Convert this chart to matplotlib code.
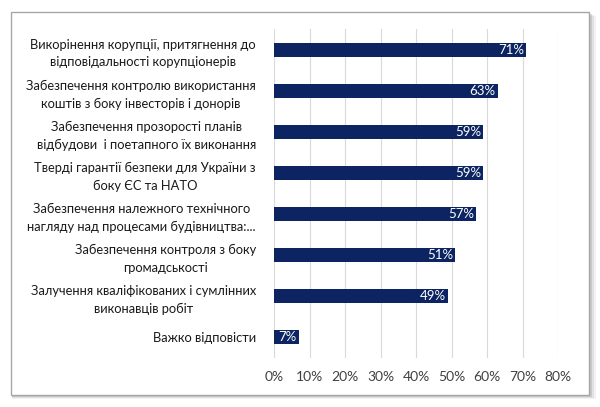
import matplotlib.pyplot as plt
from matplotlib.patches import Rectangle

# categories top -> bottom
labels = [
    "Викорінення корупції, притягнення до\nвідповідальності корупціонерів",
    "Забезпечення контролю використання\nкоштів з боку інвесторів і донорів",
    "Забезпечення прозорості планів\nвідбудови  і поетапного їх виконання",
    "Тверді гарантії безпеки для України з\nбоку ЄС та НАТО",
    "Забезпечення належного технічного\nнагляду над процесами будівництва:...",
    "Забезпечення контроля з боку\nгромадськості",
    "Залучення кваліфікованих і сумлінних\nвиконавців робіт",
    "Важко відповісти",
]
values = [71, 63, 59, 59, 57, 51, 49, 7]
ticks = [0, 10, 20, 30, 40, 50, 60, 70, 80]

plt.rcParams['font.family'] = ['Lato', 'DejaVu Sans']

fig = plt.figure(figsize=(6, 4.07), dpi=100)

# frame with a soft shadow
x0, y0, w, h = 0.018, 0.0295, 0.963, 0.941
for k, a in [(0.010, 0.10), (0.007, 0.15), (0.004, 0.25)]:
    fig.patches.append(Rectangle((x0 + 0.002, y0 - k), w + k, h, transform=fig.transFigure,
                                 facecolor='#808080', edgecolor='none', alpha=a, zorder=0))
fig.patches.append(Rectangle((x0, y0), w, h, transform=fig.transFigure,
                             facecolor='white', edgecolor='#a6a6a6', lw=1.0, zorder=1))

ax = fig.add_axes([0.4567, 0.1216, 0.4733, 0.806])
ax.set_zorder(2)
ax.patch.set_alpha(0)

y = list(range(len(values)))
ax.barh(y, values, height=0.34, color='#0c2461', zorder=3)
for yi, v in zip(y, values):
    ax.text(v - 0.6, yi, f"{v}%", ha='right', va='center', color='white', fontsize=9.5, zorder=4)

ax.set_xlim(0, 80)
ax.set_ylim(len(values) - 0.5, -0.5)
ax.set_xticks(ticks)
ax.set_xticklabels([f"{t}%" for t in ticks], fontsize=10, color='#404040')
ax.set_yticks(y)
ax.set_yticklabels(labels, fontsize=9.3, color='#1a1a1a', multialignment='center',
                   linespacing=1.55)
ax.tick_params(axis='both', length=0)
ax.tick_params(axis='y', pad=13)
ax.tick_params(axis='x', pad=10)
ax.grid(axis='x', color='#d9d9d9', lw=0.8, zorder=0)
for s in ax.spines.values():
    s.set_visible(False)

fig.savefig('out.png', dpi=100)
